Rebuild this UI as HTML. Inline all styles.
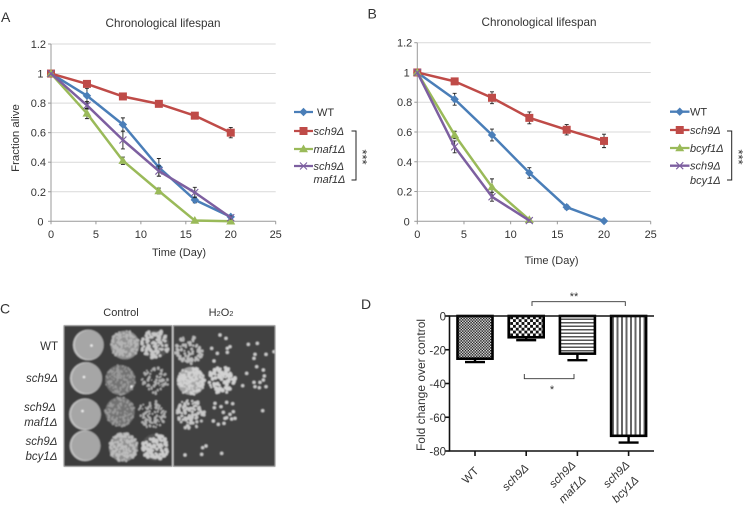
<!DOCTYPE html>
<html>
<head>
<meta charset="utf-8">
<title>Chronological lifespan figure</title>
<style>
html,body{margin:0;padding:0;background:#fff;}
svg{display:block;}
text{font-family:"Liberation Sans",sans-serif;fill:#333;}
</style>
</head>
<body>
<svg id="fig" width="750" height="505" viewBox="0 0 750 505" xmlns="http://www.w3.org/2000/svg">
<defs>
<pattern id="hatch-check-fine" width="2.8" height="2.8" patternUnits="userSpaceOnUse"><rect width="2.8" height="2.8" fill="#ddd"/><rect width="1.4" height="1.4" fill="#222"/><rect x="1.4" y="1.4" width="1.4" height="1.4" fill="#222"/></pattern>
<pattern id="hatch-check" width="5.7" height="5.7" patternUnits="userSpaceOnUse"><rect width="5.7" height="5.7" fill="#fff"/><rect width="2.85" height="2.85" fill="#111"/><rect x="2.85" y="2.85" width="2.85" height="2.85" fill="#111"/></pattern>
<pattern id="hatch-h" width="3.5" height="3.5" patternUnits="userSpaceOnUse"><rect width="3.5" height="3.5" fill="#fff"/><rect width="3.5" height="1.5" fill="#555"/></pattern>
<pattern id="hatch-v" width="4.5" height="4.5" patternUnits="userSpaceOnUse"><rect width="4.5" height="4.5" fill="#fff"/><rect width="2" height="4.5" fill="#666"/></pattern>
<filter id="soft" x="-5%" y="-5%" width="110%" height="110%"><feGaussianBlur stdDeviation="0.7"/></filter>
</defs>
<g id="layer"></g>
</svg>
<script>
// Panel A data
const daysA = [0, 4, 8, 12, 16, 20];
const wtA = [1, 0.85, 0.655, 0.365, 0.145, 0.03];
const sch9A = [1, 0.93, 0.845, 0.795, 0.715, 0.6];
const maf1A = [1, 0.73, 0.41, 0.205, 0.005, 0];
const doubleA = [1, 0.785, 0.55, 0.34, 0.195, 0.025];
const wtErrA = [0, 0.05, 0.045, 0.06, 0.02, 0.01];
const sch9ErrA = [0, 0.02, 0.015, 0.015, 0.02, 0.035];
const maf1ErrA = [0, 0.035, 0.025, 0.02, 0, 0];
const doubleErrA = [0, 0.025, 0.06, 0.035, 0.035, 0.01];

// Panel B data
const daysB = [0, 4, 8, 12, 16, 20];
const daysBShort = [0, 4, 8, 12];
const wtB = [1, 0.82, 0.58, 0.325, 0.095, 0.002];
const sch9B = [1, 0.94, 0.83, 0.695, 0.615, 0.54];
const bcy1B = [1, 0.58, 0.23, 0.01];
const doubleB = [1, 0.5, 0.165, 0.005];
const wtErrB = [0, 0.04, 0.04, 0.035, 0.015, 0];
const sch9ErrB = [0, 0.015, 0.04, 0.04, 0.035, 0.045];
const bcy1ErrB = [0, 0.025, 0.055, 0];
const doubleErrB = [0, 0.04, 0.03, 0];

const xTickValues = [0, 5, 10, 15, 20, 25];
const yTickLabels = ['0', '0.2', '0.4', '0.6', '0.8', '1', '1.2'];
const yTickValues = [0, 0.2, 0.4, 0.6, 0.8, 1, 1.2];

// Panel D data
const barCategories = ['WT', 'sch9', 'sch9-maf1', 'sch9-bcy1'];
const barValues = [-25.3, -12.6, -22.3, -71];
const barErrors = [2, 1.7, 3.9, 4];
const barFills = ['hatch-check-fine', 'hatch-check', 'hatch-h', 'hatch-v'];
const barTicks = [0, -20, -40, -60, -80];

const NS = 'http://www.w3.org/2000/svg';
const root = document.getElementById('layer');
function mk(tag, attrs, parent) {
  const el = document.createElementNS(NS, tag);
  for (const k in attrs) el.setAttribute(k, attrs[k]);
  (parent || root).appendChild(el);
  return el;
}
function group(name) {
  const g = mk('g', {});
  
  
  return g;
}
function label(parent, name, str, x, y, size, anchor, italic, rot) {
  const t = mk('text', {x: x, y: y, 'font-size': size, 'text-anchor': anchor || 'start'}, parent);
  if (italic) t.setAttribute('font-style', 'italic');
  if (rot) t.setAttribute('transform', 'rotate(' + rot + ' ' + x + ' ' + y + ')');
  t.textContent = str;
  
  
  return t;
}

const BLUE = '#4a7eb8', RED = '#bf4b48', GREEN = '#9aba59', PURPLE = '#7d5fa0';

function marker(g, kind, x, y, color) {
  let m;
  if (kind === 'diamond') {
    m = mk('polygon', {points: [x, y - 4.2, x + 4.2, y, x, y + 4.2, x - 4.2, y].join(' '), fill: color}, g);
  } else if (kind === 'square') {
    m = mk('rect', {x: x - 4, y: y - 4, width: 8, height: 8, fill: color}, g);
  } else if (kind === 'triangle') {
    m = mk('polygon', {points: [x, y - 4.5, x + 4.5, y + 3.2, x - 4.5, y + 3.2].join(' '), fill: color}, g);
  } else {
    m = mk('path', {d: 'M' + (x - 3.5) + ' ' + (y - 3.5) + 'L' + (x + 3.5) + ' ' + (y + 3.5) + 'M' + (x - 3.5) + ' ' + (y + 3.5) + 'L' + (x + 3.5) + ' ' + (y - 3.5), stroke: color, 'stroke-width': 1.1, fill: 'none'}, g);
  }
  
  
}

function lineChart(cfg) {
  const g = group(cfg.name);
  const xS = v => cfg.x0 + (v / 25) * (cfg.x1 - cfg.x0);
  const yS = v => cfg.y0 + (v / 1.2) * (cfg.y1 - cfg.y0);
  yTickValues.forEach((v, i) => {
    if (v > 0) {
      const gl = mk('line', {x1: cfg.x0, x2: cfg.x1, y1: yS(v), y2: yS(v), stroke: '#d9d9d9', 'stroke-width': 1}, g);
      
      
    }
    const tk = mk('line', {x1: cfg.x0 - 3, x2: cfg.x0, y1: yS(v), y2: yS(v), stroke: '#999', 'stroke-width': 1}, g);
    
    
    const shift = yTickLabels[i].length === 1 ? 7.5 : 5;
    label(g, 'y-tick-label', yTickLabels[i], cfg.x0 - shift, yS(v) + 4, 11, 'end');
  });
  const ax = mk('path', {d: 'M' + cfg.x0 + ' ' + cfg.y1 + 'V' + cfg.y0 + 'H' + cfg.x1, stroke: '#999', 'stroke-width': 1, fill: 'none'}, g);
  
  
  xTickValues.forEach(v => {
    const tk = mk('line', {x1: xS(v), x2: xS(v), y1: cfg.y0, y2: cfg.y0 + 3, stroke: '#999', 'stroke-width': 1}, g);
    
    
    label(g, 'x-tick-label', String(v), xS(v), cfg.y0 + 16.5, 11, 'middle');
  });
  cfg.series.forEach(s => {
    const sg = mk('g', {}, g);
    
    
    s.err.forEach((e, i) => {
      if (e <= 0) return;
      const x = xS(s.days[i]);
      const eb = mk('path', {d: 'M' + (x - 2) + ' ' + yS(s.vals[i] + e) + 'H' + (x + 2) + 'M' + x + ' ' + yS(s.vals[i] + e) + 'V' + yS(s.vals[i] - e) + 'M' + (x - 2) + ' ' + yS(s.vals[i] - e) + 'H' + (x + 2), stroke: '#222', 'stroke-width': 0.9, fill: 'none'}, sg);
      
      
    });
    const pts = s.vals.map((v, i) => xS(s.days[i]) + ',' + yS(v)).join(' ');
    const pl = mk('polyline', {points: pts, fill: 'none', stroke: s.color, 'stroke-width': 2.5, 'stroke-linejoin': 'round'}, sg);
    
    
    s.vals.forEach((v, i) => marker(sg, s.kind, xS(s.days[i]), yS(v), s.color));
  });
  label(g, 'chart-title', 'Chronological lifespan', cfg.titleX, cfg.titleY, 11.7, 'middle');
  label(g, 'x-axis-title', 'Time (Day)', cfg.xtX, cfg.xtY, 11, 'middle');
  if (cfg.ytitle) label(g, 'y-axis-title', 'Fraction alive', 19, 138, 11.4, 'middle', false, -90);
  const lg = mk('g', {}, g);
  
  
  cfg.legend.forEach(l => {
    const ln = mk('line', {x1: cfg.lx0, x2: cfg.lx1, y1: l.y, y2: l.y, stroke: l.color, 'stroke-width': 2.3}, lg);
    
    
    marker(lg, l.kind, (cfg.lx0 + cfg.lx1) / 2, l.y, l.color);
    label(lg, 'legend-entry', l.text, l.tx, l.y + 4, 11, 'start', l.text !== 'WT');
    if (l.text2) label(lg, 'legend-entry-line2', l.text2, l.tx, l.y2 + 4, 11, 'start', true);
  });
  const br = mk('path', {d: 'M' + cfg.bx0 + ' ' + cfg.by0 + 'H' + cfg.bx1 + 'V' + cfg.by1 + 'H' + cfg.bx0, fill: 'none', stroke: '#222', 'stroke-width': 1}, g);
  
  
  label(g, 'significance-stars', cfg.stars, cfg.sx, cfg.sy, 13, 'middle', false, 90);
}

lineChart({
  name: 'chart-a', x0: 51, x1: 275.7, y0: 221.3, y1: 44, titleX: 163, titleY: 27, xtX: 179, xtY: 256, ytitle: true,
  lx0: 294, lx1: 313, bx0: 351.5, bx1: 356, by0: 131, by1: 180, stars: '***', sx: 358, sy: 157,
  series: [
    {id: 'wt', days: daysA, vals: wtA, err: wtErrA, color: BLUE, kind: 'diamond'},
    {id: 'sch9', days: daysA, vals: sch9A, err: sch9ErrA, color: RED, kind: 'square'},
    {id: 'maf1', days: daysA, vals: maf1A, err: maf1ErrA, color: GREEN, kind: 'triangle'},
    {id: 'sch9-maf1', days: daysA, vals: doubleA, err: doubleErrA, color: PURPLE, kind: 'cross'}
  ],
  legend: [
    {text: 'WT', y: 112, tx: 317, color: BLUE, kind: 'diamond'},
    {text: 'sch9Δ', y: 131, tx: 313.5, color: RED, kind: 'square'},
    {text: 'maf1Δ', y: 149, tx: 313.5, color: GREEN, kind: 'triangle'},
    {text: 'sch9Δ', text2: 'maf1Δ', y: 166, y2: 179, tx: 313.5, color: PURPLE, kind: 'cross'}
  ]
});

lineChart({
  name: 'chart-b', x0: 417.3, x1: 650.7, y0: 221.3, y1: 42.7, titleX: 539, titleY: 26, xtX: 551.5, xtY: 264, ytitle: false,
  lx0: 670, lx1: 689.5, bx0: 727, bx1: 731.7, by0: 131, by1: 180, stars: '***', sx: 734, sy: 157,
  series: [
    {id: 'wt', days: daysB, vals: wtB, err: wtErrB, color: BLUE, kind: 'diamond'},
    {id: 'sch9', days: daysB, vals: sch9B, err: sch9ErrB, color: RED, kind: 'square'},
    {id: 'bcy1', days: daysBShort, vals: bcy1B, err: bcy1ErrB, color: GREEN, kind: 'triangle'},
    {id: 'sch9-bcy1', days: daysBShort, vals: doubleB, err: doubleErrB, color: PURPLE, kind: 'cross'}
  ],
  legend: [
    {text: 'WT', y: 111.7, tx: 690, color: BLUE, kind: 'diamond'},
    {text: 'sch9Δ', y: 130, tx: 690, color: RED, kind: 'square'},
    {text: 'bcyf1Δ', y: 148, tx: 690, color: GREEN, kind: 'triangle'},
    {text: 'sch9Δ', text2: 'bcy1Δ', y: 165.7, y2: 180, tx: 690, color: PURPLE, kind: 'cross'}
  ]
});

// Panel letters
const letters = group('panel-letters');
label(letters, 'panel-letter-a', 'A', 1, 22, 14);
label(letters, 'panel-letter-b', 'B', 367.5, 18.5, 14);
label(letters, 'panel-letter-c', 'C', 0, 313.5, 14);
label(letters, 'panel-letter-d', 'D', 361, 309, 14);

// Panel C: spot assay (photo imitation)
const photo = group('spot-assay-photo');
const photoInner = mk('g', {filter: 'url(#soft)'}, photo);
const plate1 = mk('rect', {x: 64, y: 325.7, width: 108, height: 140.6, fill: '#3e3e3e'}, photoInner);


const plate2 = mk('rect', {x: 173.5, y: 325.7, width: 101.5, height: 140.6, fill: '#434343'}, photoInner);


const border1 = mk('rect', {x: 64, y: 325.7, width: 108, height: 140.6, fill: 'none', stroke: '#999', 'stroke-width': 0.8}, photo);


const border2 = mk('rect', {x: 173.5, y: 325.7, width: 101.5, height: 140.6, fill: 'none', stroke: '#999', 'stroke-width': 0.8}, photo);



const lawns = [[88.3, 345, 15.3], [86, 378.3, 16], [85, 414.3, 15.8], [85, 445.7, 15.3]];
lawns.forEach(l => {
  const rim = mk('circle', {cx: l[0], cy: l[1], r: l[2], fill: '#c4c4c4'}, photoInner);
  
  
  const c = mk('circle', {cx: l[0] + 1, cy: l[1] - 0.2, r: l[2] - 0.9, fill: '#a6a6a6'}, photoInner);
  
  
});

let seed = 12345;
function rnd() { seed = (seed * 1103515 + 12345) % 2147483648; return seed / 2147483648; }
function speck(cx, cy, r, n, size, color, base) {
  if (base) {
    const b = mk('circle', {cx: cx, cy: cy, r: r, fill: base}, photoInner);
    
    
  }
  const parts = [];
  for (let i = 0; i < n; i++) {
    const a = rnd() * Math.PI * 2, d = Math.sqrt(rnd()) * r, s = size * (0.7 + rnd() * 0.6);
    const x = cx + Math.cos(a) * d, y = cy + Math.sin(a) * d;
    parts.push('M' + (x - s).toFixed(1) + ' ' + y.toFixed(1) + 'a' + s.toFixed(1) + ' ' + s.toFixed(1) + ' 0 1 0 ' + (2 * s).toFixed(1) + ' 0a' + s.toFixed(1) + ' ' + s.toFixed(1) + ' 0 1 0 ' + (-2 * s).toFixed(1) + ' 0');
  }
  const p = mk('path', {d: parts.join(''), fill: color}, photoInner);
  
  
}
// second dilution column
speck(125, 345, 14.3, 130, 1.1, '#b5b5b5', '#8f8f8f');
speck(120.3, 380, 15, 130, 0.9, '#9a9a9a', '#727272');
speck(120, 411.7, 14.7, 130, 0.9, '#9a9a9a', '#727272');
speck(123.3, 447.3, 14.3, 150, 1.1, '#bdbdbd', '#8f8f8f');
// third dilution column
speck(155, 344.3, 14, 95, 1.4, '#c8c8c8', '#555');
speck(155, 380.7, 13.3, 75, 1, '#b0b0b0');
speck(151.7, 414, 14, 95, 1.05, '#b0b0b0');
speck(155, 447.3, 13.3, 80, 1.6, '#cccccc', '#555');
// H2O2 plate
speck(189, 350, 14, 85, 1.25, '#bcbcbc');
speck(191, 381, 14, 170, 1.1, '#d2d2d2', '#a5a5a5');
speck(190, 414, 14.5, 90, 1.35, '#c8c8c8');
speck(221.7, 380, 13.5, 80, 1.45, '#d2d2d2');

const sparseColonies = [[678,130],[660,120],[682,160],[690,155],[635,160],[652,175],[682,172],[642,198],[745,148],[772,145],[765,178],[762,190],[798,178],[822,170],[770,215],[790,225],[740,235],[793,243],[790,255],[780,262],[762,262],[728,272],[765,275],[778,278],[798,275],[645,325],[680,322],[698,326],[643,338],[663,335],[700,350],[670,352],[690,358],[705,370],[675,370],[695,372],[640,378],[655,388],[672,385],[788,347],[680,368],[608,458],[618,453],[555,480],[605,478],[665,475]];
sparseColonies.forEach(s => {
  const c = mk('circle', {cx: s[0] / 3, cy: 295 + s[1] / 3, r: 1.6, fill: '#d0d0d0'}, photoInner);
  
  
});

const hl = [[91.5, 345.5], [84, 377], [82.5, 411], [131.5, 386.5]];
hl.forEach(h => {
  const c = mk('circle', {cx: h[0], cy: h[1], r: 1.3, fill: '#eee'}, photoInner);
  
  
});

const cLabels = group('spot-assay-labels');
label(cLabels, 'column-label-control', 'Control', 121, 316, 11, 'middle');
const hh = label(cLabels, 'column-label-h2o2', 'H', 221, 316, 11, 'middle');
const s1 = mk('tspan', {'font-size': 7.5}, hh); s1.textContent = '2';
const s2 = mk('tspan', {}, hh); s2.textContent = 'O';
const s3 = mk('tspan', {'font-size': 7.5}, hh); s3.textContent = '2';
label(cLabels, 'row-label-wt', 'WT', 58, 350, 11.5, 'end');
label(cLabels, 'row-label-sch9', 'sch9Δ', 58, 382, 11.5, 'end', true);
label(cLabels, 'row-label-sch9-maf1', 'sch9Δ', 56, 411, 11.5, 'end', true);
label(cLabels, 'row-label-sch9-maf1-2', 'maf1Δ', 57.5, 426, 11.5, 'end', true);
label(cLabels, 'row-label-sch9-bcy1', 'sch9Δ', 57.5, 445, 11.5, 'end', true);
label(cLabels, 'row-label-sch9-bcy1-2', 'bcy1Δ', 57.5, 460, 11.5, 'end', true);

// Panel D: bar chart
const dg = group('chart-d');
const dY = v => 316 + (v / -80) * (451 - 316);
const dX = i => 475 + i * 51.2;
const barHalf = 17.5;
barTicks.forEach(v => {
  const tk = mk('line', {x1: 444.5, x2: 449.5, y1: dY(v), y2: dY(v), stroke: '#111', 'stroke-width': 1.6}, dg);
  
  
  label(dg, 'y-tick-label', String(v), 446, dY(v) + 4.5, 11.5, 'end');
});
barCategories.forEach((name, i) => {
  const bar = mk('rect', {x: dX(i) - barHalf, y: dY(0), width: 2 * barHalf, height: dY(barValues[i]) - dY(0), fill: 'url(#' + barFills[i] + ')', stroke: '#000', 'stroke-width': 2.6}, dg);
  
  
  const end = barValues[i] - barErrors[i];
  const eb = mk('path', {d: 'M' + dX(i) + ' ' + dY(barValues[i]) + 'V' + dY(end) + 'M' + (dX(i) - 10) + ' ' + dY(end) + 'H' + (dX(i) + 10), stroke: '#000', 'stroke-width': 2.4, fill: 'none'}, dg);
  
  
  const tk = mk('line', {x1: dX(i), x2: dX(i), y1: 451, y2: 456, stroke: '#111', 'stroke-width': 1.6}, dg);
  
  
});
const dAxes = mk('path', {d: 'M654 316H449.5V451H654', fill: 'none', stroke: '#111', 'stroke-width': 1.6}, dg);


label(dg, 'y-axis-title', 'Fold change over control', 425, 385, 12, 'middle', false, -90);
label(dg, 'x-label-wt', 'WT', 473, 478, 11.5, 'middle', false, -45);
label(dg, 'x-label-sch9', 'sch9Δ', 518, 480, 11.5, 'middle', true, -45);
label(dg, 'x-label-sch9-maf1', 'sch9Δ', 565, 477, 11.5, 'middle', true, -45);
label(dg, 'x-label-sch9-maf1-2', 'maf1Δ', 575, 492, 11.5, 'middle', true, -45);
label(dg, 'x-label-sch9-bcy1', 'sch9Δ', 619, 477, 11.5, 'middle', true, -45);
label(dg, 'x-label-sch9-bcy1-2', 'bcy1Δ', 628, 492, 11.5, 'middle', true, -45);
const b1 = mk('path', {d: 'M532 306V301.7H625.3V306', fill: 'none', stroke: '#333', 'stroke-width': 0.9}, dg);


label(dg, 'significance-stars-top', '**', 574, 300, 11, 'middle');
const b2 = mk('path', {d: 'M524.3 374V378.7H574V374', fill: 'none', stroke: '#333', 'stroke-width': 0.9}, dg);


label(dg, 'significance-star-bottom', '*', 552, 393, 11, 'middle');
</script>
</body>
</html>
